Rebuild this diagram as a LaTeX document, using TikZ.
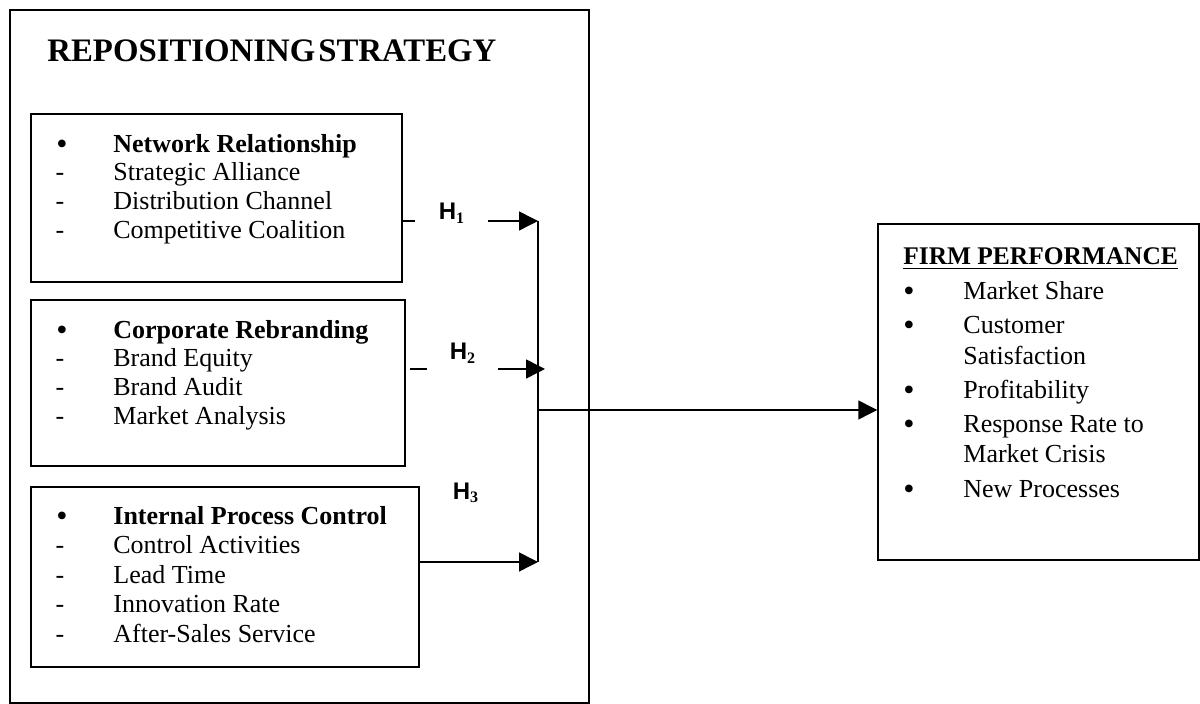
\documentclass[tikz,border=0pt]{standalone}
\usepackage{fontspec}
\setmainfont{Liberation Serif}
\newfontfamily\hfont{Liberation Sans}
\usetikzlibrary{arrows.meta}
\begin{document}
\begin{tikzpicture}[x=0.5pt,y=-0.5pt,
  box/.style={draw, line width=0.75pt, inner sep=0pt},
  outerbox/.style={draw, line width=1.3pt, inner sep=0pt},
  item/.style={anchor=base west, inner sep=0pt, font=\fontsize{13}{15}\selectfont},
  bmark/.style={anchor=base, inner sep=0pt, font=\fontsize{13}{15}\selectfont},
  bdot/.style={anchor=base, inner sep=0pt, font=\fontsize{16}{15}\selectfont},
  hlab/.style={inner sep=0pt, font=\hfont\bfseries\fontsize{12}{14}\selectfont},
  conn/.style={line width=0.75pt},
  arr/.style={line width=0.75pt, -{Triangle[length=9.5pt,width=9.5pt]}}]
\useasboundingbox (0,0) rectangle (1200,704);

% boxes
\node[outerbox, minimum width=289.5pt, minimum height=346.5pt] (outer) at (299.5,356.5) {};
\node[box, minimum width=185.5pt, minimum height=84pt] (b1) at (216.5,198) {};
\node[box, minimum width=187pt, minimum height=83pt] (b2) at (218,383) {};
\node[box, minimum width=194pt, minimum height=90pt] (b3) at (225,577) {};
\node[box, minimum width=160.5pt, minimum height=168pt] (fp) at (1038.5,392) {};

% title
\node[anchor=base west, inner sep=0pt, font=\bfseries\fontsize{16.4}{18}\selectfont] (title) at (47,62) {{\spaceskip=1.5pt REPOSITIONING STRATEGY}};

% box 1
\node[bdot] (m1a) at (62,155) {•};
\node[item] (t1a) at (113,153) {\textbf{Network Relationship}};
\node[bmark] (m1b) at (60,181) {-};
\node[item] (t1b) at (113,181) {Strategic Alliance};
\node[bmark] (m1c) at (60,210) {-};
\node[item] (t1c) at (113,210) {Distribution Channel};
\node[bmark] (m1d) at (60,239) {-};
\node[item] (t1d) at (113,239) {Competitive Coalition};

% box 2
\node[bdot] (m2a) at (62,341) {•};
\node[item] (t2a) at (113,339) {\textbf{Corporate Rebranding}};
\node[bmark] (m2b) at (60,367) {-};
\node[item] (t2b) at (113,367) {Brand Equity};
\node[bmark] (m2c) at (60,396) {-};
\node[item] (t2c) at (113,396) {Brand Audit};
\node[bmark] (m2d) at (60,425) {-};
\node[item] (t2d) at (113,425) {Market Analysis};

% box 3
\node[bdot] (m3a) at (62,527) {•};
\node[item] (t3a) at (113,525) {\textbf{Internal Process Control}};
\node[bmark] (m3b) at (60,554) {-};
\node[item] (t3b) at (113,554) {Control Activities};
\node[bmark] (m3c) at (60,584) {-};
\node[item] (t3c) at (113,584) {Lead Time};
\node[bmark] (m3d) at (60,613) {-};
\node[item] (t3d) at (113,613) {Innovation Rate};
\node[bmark] (m3e) at (60,643) {-};
\node[item] (t3e) at (113,643) {After-Sales Service};

% firm performance
\node[item, font=\bfseries\fontsize{12.7}{15}\selectfont] (fph) at (903,265) {\underline{FIRM PERFORMANCE}};
\node[bdot] (f1m) at (909,302) {•};
\node[item] (f1) at (963,300) {Market Share};
\node[bdot] (f2m) at (909,336) {•};
\node[item] (f2) at (963,334) {Customer};
\node[item] (f2b) at (963,365) {Satisfaction};
\node[bdot] (f3m) at (909,401) {•};
\node[item] (f3) at (963,399) {Profitability};
\node[bdot] (f4m) at (909,435) {•};
\node[item] (f4) at (963,433) {Response Rate to};
\node[item] (f4b) at (963,463) {Market Crisis};
\node[bdot] (f5m) at (909,500) {•};
\node[item] (f5) at (963,498) {New Processes};

% hypothesis labels
\node[hlab] (h1) at (452,213) {H$_{\mathbf{1}}$};
\node[hlab] (h2) at (463,353) {H$_{\mathbf{2}}$};
\node[hlab] (h3) at (466,493) {H$_{\mathbf{3}}$};

% junction coordinates
\coordinate (j1) at (538,221);
\coordinate (j3) at (538,562);
\coordinate (jo) at (538,410);
\coordinate (g1a) at (415,221);
\coordinate (g1b) at (488,221);
\coordinate (g2s) at (410,369);
\coordinate (g2a) at (427,369);
\coordinate (g2b) at (498,369);
\coordinate (j2) at (545,369);

% connectors
\draw[conn] (b1.east |- j1) -- (g1a);
\draw[arr] (g1b) -- (j1);
\draw[conn] (g2s) -- (g2a);
\draw[arr] (g2b) -- (j2);
\draw[arr] (b3.east |- j3) -- (j3);
\draw[conn] (j1) -- (j3);
\draw[arr] (jo) -- (fp.west |- jo);
\end{tikzpicture}
\end{document}
